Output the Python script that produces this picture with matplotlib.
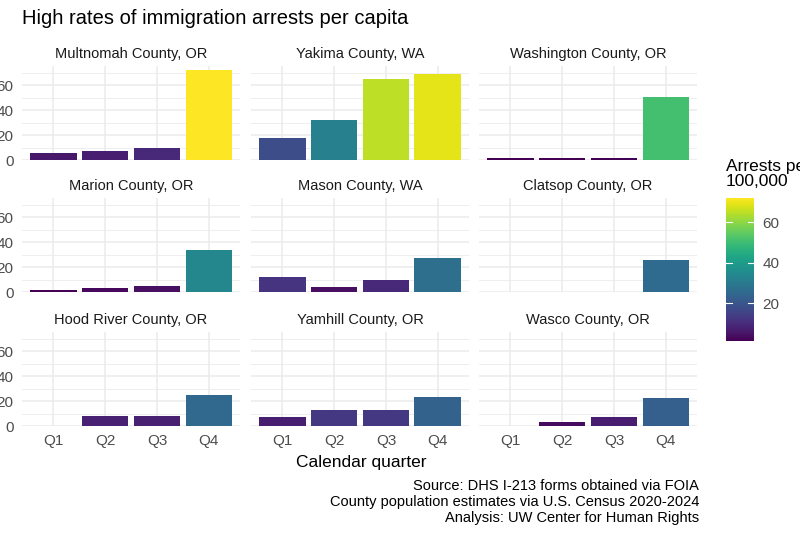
import matplotlib
matplotlib.use("Agg")
import matplotlib.pyplot as plt
import numpy as np

plt.rcParams['font.family'] = ['Liberation Sans', 'DejaVu Sans']

counties = ["Multnomah County, OR", "Yakima County, WA", "Washington County, OR",
            "Marion County, OR", "Mason County, WA", "Clatsop County, OR",
            "Hood River County, OR", "Yamhill County, OR", "Wasco County, OR"]
quarters = ["Q1", "Q2", "Q3", "Q4"]
rates = [
    [6, 7.5, 9.5, 72],
    [18, 32, 65, 69],
    [1.5, 1.5, 2, 51],
    [2, 3, 4.5, 34],
    [12, 4, 9.5, 27],
    [0, 0, 0, 26],
    [0, 8, 8, 25],
    [7.5, 13, 13, 23.5],
    [0, 3.5, 7, 22.5],
]
captions = ["Source: DHS I-213 forms obtained via FOIA",
            "County population estimates via U.S. Census 2020-2024",
            "Analysis: UW Center for Human Rights"]

W, H = 800, 534
fig = plt.figure(figsize=(8, 5.34), dpi=100)
cmap = plt.get_cmap("viridis")
vmin, vmax = 1.5, 72
norm = matplotlib.colors.Normalize(vmin, vmax)

col_x = [22, 251, 479]
pw = 218
row_y = [66, 198, 332]
ph = 94
ymax = 75.5

def px(x, y, w, h):
    return [x / W, 1 - (y + h) / H, w / W, h / H]

for i, (name, vals) in enumerate(zip(counties, rates)):
    r, c = divmod(i, 3)
    ax = fig.add_axes(px(col_x[c], row_y[r], pw, ph))
    xs = np.arange(4)
    ax.bar(xs, vals, width=0.9, color=cmap(norm(np.array(vals))), zorder=2)
    ax.set_xlim(-0.6, 3.6)
    ax.set_ylim(0, ymax)
    ax.set_yticks([0, 20, 40, 60])
    ax.set_yticks([10, 30, 50, 70], minor=True)
    ax.set_xticks(xs)
    ax.grid(True, which="major", color="#ebebeb", lw=1.1, zorder=0)
    ax.grid(True, which="minor", axis="y", color="#ebebeb", lw=0.6, zorder=0)
    ax.tick_params(which="both", length=0, labelsize=11, labelcolor="#4d4d4d", pad=6)
    for s in ax.spines.values():
        s.set_visible(False)
    if c != 0:
        ax.set_yticklabels([])
    if r != 2:
        ax.set_xticklabels([])
    else:
        ax.set_xticklabels(quarters)
    ax.set_title(name, fontsize=10.5, color="#1a1a1a", pad=6)

fig.text(22 / W, 1 - 18 / H, "High rates of immigration arrests per capita",
         fontsize=14.5, va="center", ha="left")
fig.text(361 / W, 1 - 462 / H, "Calendar quarter", fontsize=12.5, ha="center", va="center")
for k, t in enumerate(captions):
    fig.text(699 / W, 1 - (486 + 16 * k) / H, t, fontsize=10.5, ha="right", va="center")

cax = fig.add_axes(px(726, 198, 28, 143))
cb = fig.colorbar(matplotlib.cm.ScalarMappable(norm=norm, cmap=cmap), cax=cax)
cb.set_ticks([20, 40, 60])
cb.outline.set_visible(False)
cax.tick_params(length=0, labelsize=11, labelcolor="#4d4d4d", pad=6)
for v in [20, 40, 60]:
    cax.axhline(v, xmin=0, xmax=0.2, color="white", lw=0.8)
    cax.axhline(v, xmin=0.8, xmax=1, color="white", lw=0.8)
fig.text(726 / W, 1 - 174 / H, "Arrests per\n100,000", fontsize=12.5, ha="left", va="center",
         linespacing=0.95)

fig.savefig("out.png", dpi=100)
